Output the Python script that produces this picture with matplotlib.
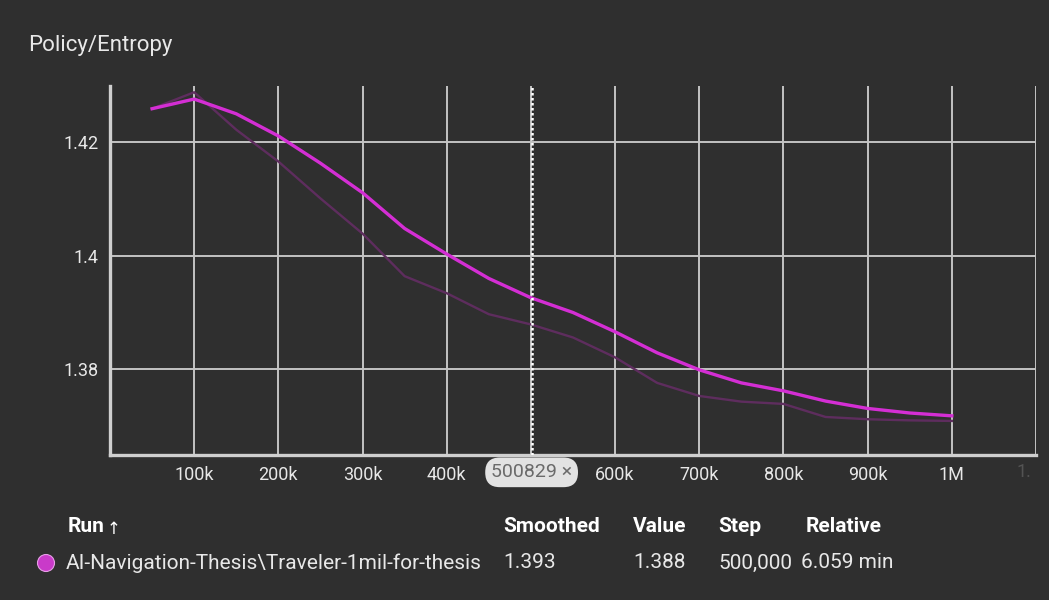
import matplotlib
matplotlib.use("Agg")
import matplotlib.pyplot as plt
from matplotlib.patches import Circle
from matplotlib.transforms import IdentityTransform, blended_transform_factory

# Data
steps = [50000, 100000, 150000, 200000, 250000, 300000, 350000, 400000, 450000, 500000,
         550000, 600000, 650000, 700000, 750000, 800000, 850000, 900000, 950000, 1000000]
smoothed = [1.4259, 1.4276, 1.4250, 1.4211, 1.4163, 1.4111, 1.4048, 1.4003, 1.3960, 1.3926,
            1.3900, 1.3866, 1.3829, 1.3799, 1.3776, 1.3762, 1.3744, 1.3731, 1.3723, 1.3718]
raw = [1.4259, 1.4288, 1.4222, 1.4166, 1.4101, 1.4039, 1.3964, 1.3934, 1.3897, 1.3879,
       1.3856, 1.3821, 1.3776, 1.3753, 1.3743, 1.3739, 1.3716, 1.3712, 1.3710, 1.3709]
x_ticks = [0, 100000, 200000, 300000, 400000, 500000, 600000, 700000, 800000, 900000, 1000000, 1100000]
x_labels = ["", "100k", "200k", "300k", "400k", "", "600k", "700k", "800k", "900k", "1M", ""]
y_ticks = [1.38, 1.40, 1.42]
y_labels = ["1.38", "1.4", "1.42"]
hover_step = 500829
table_header = ["Run", "Smoothed", "Value", "Step", "Relative"]
table_row = ["AI-Navigation-Thesis\\Traveler-1mil-for-thesis", "1.393", "1.388", "500,000", "6.059 min"]

BG = "#2f2f2f"
GRID = "#c4c4c4"
LINE = "#d42ed4"
RAW = "#5e2d5e"
TXT = "#e8e8e8"

plt.rcParams["font.family"] = ["Roboto", "DejaVu Sans"]

W, H = 1049, 600
fig = plt.figure(figsize=(W / 100, H / 100), dpi=100, facecolor=BG)


def px(x, y):
    return x / W, 1 - y / H


ax = fig.add_axes([110 / W, 1 - 455 / H, 926 / W, 369 / H], facecolor=BG)
ax.plot(steps, raw, color=RAW, lw=1.7, zorder=3)
ax.plot(steps, smoothed, color=LINE, lw=2.4, zorder=4)

ax.set_xlim(0, 1100000)
ax.set_ylim(1.3649, 1.4299)
ax.set_xticks(x_ticks)
ax.set_xticklabels(x_labels)
ax.set_yticks(y_ticks)
ax.set_yticklabels(y_labels)
ax.grid(True, color=GRID, lw=1.4, zorder=1)
ax.tick_params(length=0, colors=TXT, labelsize=13)
ax.tick_params(axis="x", pad=8)
ax.tick_params(axis="y", pad=8)
for side in ["top", "right"]:
    ax.spines[side].set_visible(False)
for side in ["left", "bottom"]:
    ax.spines[side].set_color("#cfcfcf")
    ax.spines[side].set_linewidth(2.4)

# hover marker
ax.axvline(hover_step, color="white", lw=1.8, ls=(0, (1, 1)), zorder=5)
trans = blended_transform_factory(ax.transData, ax.transAxes)
ax.text(hover_step, -0.047, "500829 \u00d7", transform=trans, ha="center", va="center",
        fontsize=14, color="#6a6a6a", clip_on=False,
        bbox=dict(boxstyle="round,pad=0.3,rounding_size=0.75", fc="#e2e2e2", ec="none"))
# faded edge label
ax.text(1100000 - 14000, -0.047, "1.", transform=trans, ha="center", va="center",
        fontsize=13, color=TXT, alpha=0.2, clip_on=False)

# title
fig.text(*px(28, 35), "Policy/Entropy", color=TXT, fontsize=16, va="top", ha="left")

# table
header_x = [68, 503, 633, 718, 806]
row_x = [66, 503, 633, 718, 801]
for x, label in zip(header_x, table_header):
    fig.text(*px(x, 527), label, color="white", fontsize=15, fontweight="bold",
             va="center", ha="left")
fig.text(*px(107, 529), "\u2191", color="white", fontsize=12, va="center", ha="left",
         family=["DejaVu Sans"])
for x, label in zip(row_x, table_row):
    fig.text(*px(x, 563), label, color=TXT, fontsize=15, va="center", ha="left")
fig.add_artist(Circle((46, H - 563), 8.5, transform=IdentityTransform(),
                      fc="#c93ac9", ec="#e6a0e6", lw=0.8))

fig.savefig("out.png", dpi=100, facecolor=BG)
